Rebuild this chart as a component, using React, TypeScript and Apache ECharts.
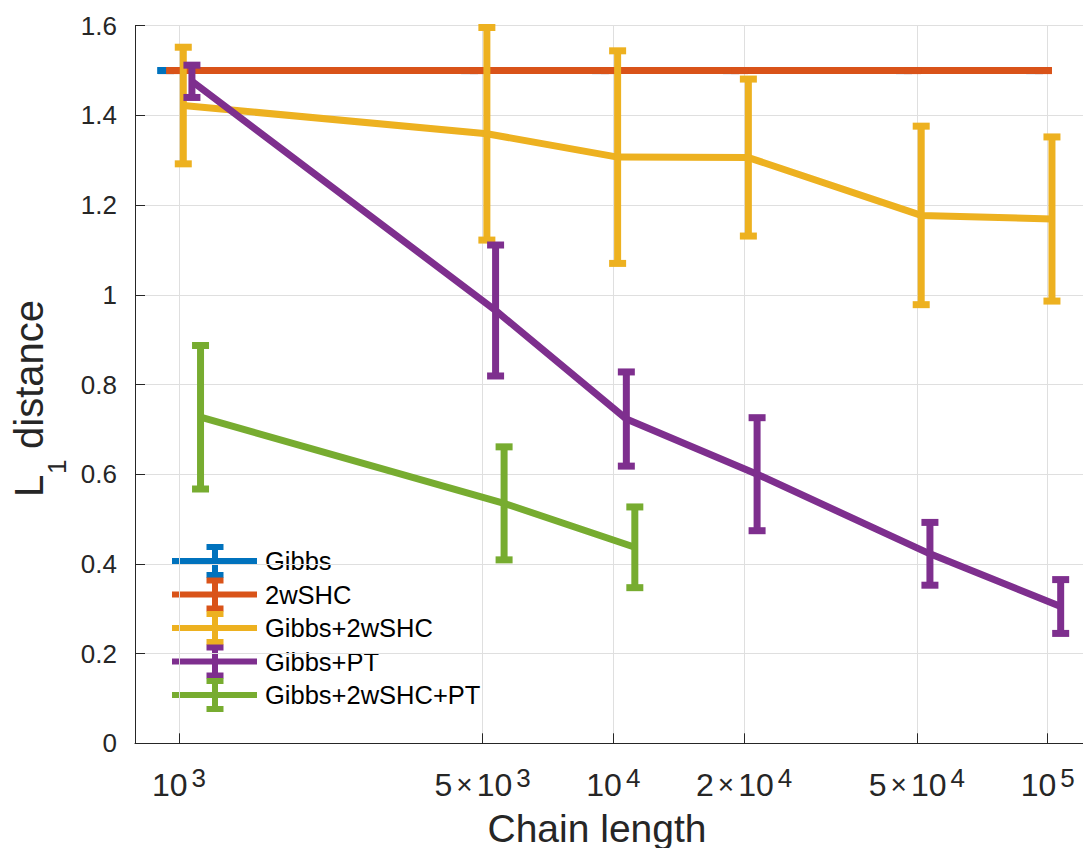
import React, { useEffect, useRef } from 'react';
import * as echarts from 'echarts';

// ---------- data ----------
const seriesNames = ['Gibbs', '2wSHC', 'Gibbs+2wSHC', 'Gibbs+PT', 'Gibbs+2wSHC+PT'];
const seriesColors = ['#0072BD', '#D95319', '#EDB120', '#7E2F8E', '#77AC30'];

const gibbsX = [933, 4667, 9334, 18668, 46670, 93340];
const gibbsY = [1.5, 1.5, 1.5, 1.5, 1.5, 1.5];
const gibbsErr = [0, 0, 0, 0, 0, 0];

const shcX = [978, 4888, 9775, 19550, 48875, 97750];
const shcY = [1.5, 1.5, 1.5, 1.5, 1.5, 1.5];
const shcErr = [0, 0, 0, 0, 0, 0];

const gibbsShcX = [1023, 5115, 10230, 20460, 51150, 102300];
const gibbsShcY = [1.422, 1.359, 1.307, 1.306, 1.177, 1.169];
const gibbsShcErr = [0.13, 0.237, 0.237, 0.175, 0.199, 0.183];

const gibbsPtX = [1071, 5357, 10714, 21428, 53570, 107140];
const gibbsPtY = [1.476, 0.965, 0.723, 0.6, 0.4225, 0.305];
const gibbsPtErr = [0.036, 0.146, 0.105, 0.126, 0.07, 0.06];

const allX = [1121, 5604, 11207];
const allY = [0.727, 0.535, 0.437];
const allErr = [0.16, 0.126, 0.09];

const xTickValues = [1000, 5000, 10000, 20000, 50000, 100000];
const xMinValue = 792;
const xMaxValue = 120600;
const yMin = 0;
const yMax = 1.6;
const yStep = 0.2;

const xAxisTitle = 'Chain length';
const yAxisTitleMain = 'L';
const yAxisTitleSub = '1';
const yAxisTitleRest = 'distance';

const seriesX = [gibbsX, shcX, gibbsShcX, gibbsPtX, allX];
const seriesY = [gibbsY, shcY, gibbsShcY, gibbsPtY, allY];
const seriesErr = [gibbsErr, shcErr, gibbsShcErr, gibbsPtErr, allErr];

const FONT = '"Liberation Sans", Arial, Helvetica, sans-serif';
const FAMILY = 'Liberation Sans';
const AXIS_COLOR = '#262626';
const GRID_COLOR = '#dfdfdf';
const LW = 7;
const CAP_HALF = 8.5;

function buildOption(): any {
  const series: any[] = [];
  seriesNames.forEach((name, i) => {
    const color = seriesColors[i];
    const pts = seriesX[i].map((x, k) => [Math.log10(x), seriesY[i][k], seriesErr[i][k]]);
    series.push({
      type: 'line',
      name,
      data: pts.map((p) => [p[0], p[1]]),
      showSymbol: false,
      symbol: 'none',
      z: 10 + i * 2,
      lineStyle: { color, width: LW, join: 'round' },
      itemStyle: { color },
      silent: true,
    });
    series.push({
      type: 'custom',
      name,
      data: pts,
      z: 11 + i * 2,
      encode: { x: 0, y: 1 },
      silent: true,
      renderItem: (params: any, api: any) => {
        const x = api.value(0);
        const y = api.value(1);
        const e = api.value(2);
        const top = api.coord([x, y + e]);
        const bot = api.coord([x, y - e]);
        const cx = top[0];
        const st = { stroke: color, lineWidth: LW, fill: null };
        return {
          type: 'group',
          children: [
            { type: 'line', shape: { x1: cx, y1: top[1], x2: cx, y2: bot[1] }, style: st },
            { type: 'line', shape: { x1: cx - CAP_HALF, y1: top[1], x2: cx + CAP_HALF, y2: top[1] }, style: st },
            { type: 'line', shape: { x1: cx - CAP_HALF, y1: bot[1], x2: cx + CAP_HALF, y2: bot[1] }, style: st },
          ],
        };
      },
    });
  });

  // legend (MATLAB style, transparent box)
  const legendChildren: any[] = [];
  const rowY0 = 561;
  const rowStep = 33.5;
  seriesNames.forEach((name, i) => {
    const cy = rowY0 + i * rowStep;
    const color = seriesColors[i];
    const st = { stroke: color, lineWidth: 6, fill: null };
    legendChildren.push(
      { type: 'line', shape: { x1: 172, y1: cy, x2: 257, y2: cy }, style: st },
      { type: 'line', shape: { x1: 215, y1: cy - 14, x2: 215, y2: cy + 14 }, style: st },
      { type: 'line', shape: { x1: 215 - CAP_HALF, y1: cy - 14, x2: 215 + CAP_HALF, y2: cy - 14 }, style: st },
      { type: 'line', shape: { x1: 215 - CAP_HALF, y1: cy + 14, x2: 215 + CAP_HALF, y2: cy + 14 }, style: st },
      {
        type: 'text',
        x: 265,
        y: cy,
        style: { text: name, fill: '#000', font: `25.5px ${FONT}`, verticalAlign: 'middle', align: 'left' },
      }
    );
  });

  const graphic: any[] = [
    { type: 'group', children: legendChildren, z: 100 },
    {
      type: 'text',
      x: 597,
      y: 828,
      style: { text: xAxisTitle, fill: AXIS_COLOR, font: `39px ${FONT}`, align: 'center', verticalAlign: 'middle' },
    },
    {
      type: 'group',
      x: 42.7,
      y: 497,
      rotation: Math.PI / 2,
      children: [
        {
          type: 'text',
          x: 0,
          y: -14,
          style: { text: yAxisTitleMain, fill: AXIS_COLOR, font: `40px ${FONT}`, align: 'left', verticalAlign: 'middle' },
        },
        {
          type: 'text',
          x: 23,
          y: 14,
          style: { text: yAxisTitleSub, fill: AXIS_COLOR, font: `26px ${FONT}`, align: 'left', verticalAlign: 'middle' },
        },
        {
          type: 'text',
          x: 48,
          y: -14,
          style: { text: yAxisTitleRest, fill: AXIS_COLOR, font: `40px ${FONT}`, align: 'left', verticalAlign: 'middle' },
        },
      ],
    },
  ];

  const xTicksLog = xTickValues.map((v) => Math.log10(v));

  return {
    animation: false,
    backgroundColor: '#ffffff',
    textStyle: { fontFamily: FAMILY },
    grid: {
      left: 135,
      right: 0,
      top: 25.7,
      bottom: 104.7,
      containLabel: false,
      outerBoundsMode: 'none',
    },
    xAxis: {
      type: 'value',
      min: Math.log10(xMinValue),
      max: Math.log10(xMaxValue),
      axisLine: { show: true, lineStyle: { color: AXIS_COLOR, width: 1 } },
      axisTick: { show: true, inside: true, length: 10, customValues: xTicksLog, lineStyle: { color: AXIS_COLOR } },
      splitLine: { show: true, lineStyle: { color: GRID_COLOR, width: 1 } },
      axisLabel: {
        show: true,
        customValues: xTicksLog,
        margin: 17,
        color: AXIS_COLOR,
        fontFamily: FAMILY,
        fontSize: 32,
        formatter: (v: number) => {
          const e = Math.floor(v + 1e-6);
          const m = Math.round(Math.pow(10, v - e));
          if (m === 1) return `{base|10}{sup|${e}}`;
          return `{base|${m}}{times|×}{base|10}{sup|${e}}`;
        },
        rich: {
          base: { fontSize: 32, fontFamily: FAMILY, color: AXIS_COLOR, height: 36 },
          times: { fontSize: 28, fontFamily: FAMILY, color: AXIS_COLOR, height: 36, padding: [0, 4, 0, 4] },
          sup: { fontSize: 26, fontFamily: FAMILY, color: AXIS_COLOR, height: 36, padding: [0, 0, 13, 4] },
        },
      },
    },
    yAxis: {
      type: 'value',
      min: yMin,
      max: yMax,
      interval: yStep,
      axisLine: { show: true, lineStyle: { color: AXIS_COLOR, width: 1 } },
      axisTick: { show: true, inside: true, length: 10, lineStyle: { color: AXIS_COLOR } },
      splitLine: { show: true, lineStyle: { color: GRID_COLOR, width: 1 } },
      axisLabel: {
        margin: 18,
        color: AXIS_COLOR,
        fontSize: 26,
        fontFamily: FAMILY,
        formatter: (v: number) => String(Number(v.toFixed(1))),
      },
    },
    series,
    graphic,
  };
}

export default function App() {
  const ref = useRef<HTMLDivElement>(null);
  useEffect(() => {
    if (!ref.current) return;
    const chart = echarts.init(ref.current, undefined, { renderer: 'svg' });
    chart.setOption(buildOption());
    return () => chart.dispose();
  }, []);
  return (
    <div
      ref={ref}
      style={{ position: 'fixed', left: 0, top: 0, width: 1083, height: 848, background: '#fff' }}
    />
  );
}
